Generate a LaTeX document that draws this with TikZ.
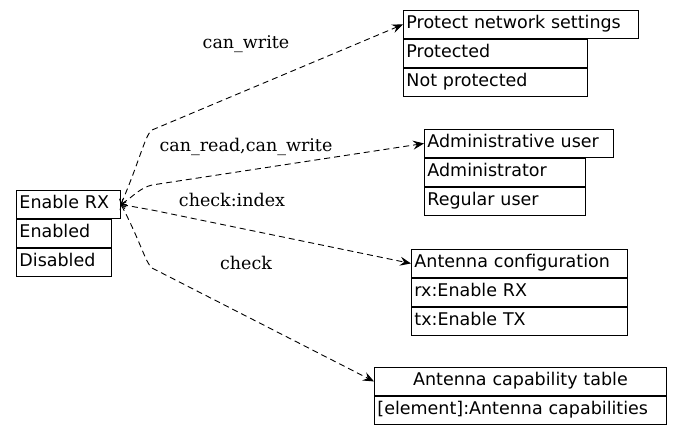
\documentclass[tikz,border=0pt]{standalone}
\usepackage{fontspec}
\setmainfont{DejaVu Sans}
\newfontfamily\lblfont{DejaVu Serif}
\usetikzlibrary{positioning,arrows.meta}
\begin{document}
\begin{tikzpicture}[x=1pt,y=-1pt,
  cell/.style={draw, line width=0.9pt, text width=#1, inner xsep=3pt, inner ysep=0pt, minimum height=28pt, text height=13pt, text depth=4pt, anchor=north west, align=left, font=\fontsize{17.5}{20}\selectfont},
  link/.style={line width=0.9pt, dash pattern=on 6pt off 4pt, {Straight Barb[length=4pt,width=7pt]}-{Stealth[length=11pt,width=9pt,inset=4pt]}},
  lbl/.style={font=\lblfont\fontsize{17.5}{20}\selectfont}]
\useasboundingbox (0,0) rectangle (681,434);

\node[cell=98pt] (rx) at (16,190) {Enable RX};
\node[cell=89pt] (rx1) at (rx.south west) {Enabled};
\node[cell=89pt] (rx2) at (rx1.south west) {Disabled};

\node[cell=229pt] (pns) at (403,10) {Protect network settings};
\node[cell=178pt] (pns1) at (pns.south west) {Protected};
\node[cell=178pt] (pns2) at (pns1.south west) {Not protected};

\node[cell=183pt] (adm) at (424,129) {Administrative user};
\node[cell=155pt] (adm1) at (adm.south west) {Administrator};
\node[cell=155pt] (adm2) at (adm1.south west) {Regular user};

\node[cell=210pt] (ant) at (411,249) {Antenna configuration};
\node[cell=210pt] (ant1) at (ant.south west) {rx:Enable RX};
\node[cell=210pt] (ant2) at (ant1.south west) {tx:Enable TX};

\node[cell=286pt, align=center] (cap) at (374,367) {Antenna capability table};
\node[cell=286pt] (cap1) at (cap.south west) {[element]:Antenna capabilities};

\coordinate (k1) at (152,130);
\coordinate (k2) at (152,185);
\coordinate (k3) at (152,210);
\coordinate (k4) at (152,268);

\draw[link] (rx.east) .. controls (140,160) and (145,135) .. (k1) -- (pns.west);
\draw[link] (rx.east) .. controls (135,195) and (140,188) .. (k2) -- (adm.west);
\draw[link] (rx.east) -- (k3) -- (ant.west);
\draw[link] (rx.east) .. controls (140,240) and (145,262) .. (k4) -- (cap.west);

\node[lbl] (l1) at (246,44) {can\_write};
\node[lbl] (l2) at (246,147) {can\_read,can\_write};
\node[lbl] (l3) at (232,200) {check:index};
\node[lbl] (l4) at (246,263) {check};
\end{tikzpicture}
\end{document}
